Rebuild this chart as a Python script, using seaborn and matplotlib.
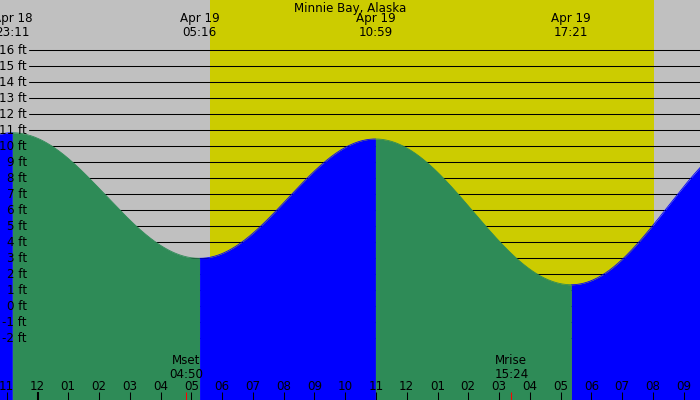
import numpy as np
import pandas as pd
import matplotlib
matplotlib.use("Agg")
import matplotlib.pyplot as plt
import seaborn as sns
from matplotlib.transforms import blended_transform_factory

# ---------------- data ----------------
title = "Minnie Bay, Alaska"
# tide extremes: hours relative to Apr 19 00:00, heights in ft
tide_hours = [-7.0, -0.817, 5.267, 10.983, 17.35, 23.6]
tide_heights = [1.5, 10.85, 3.0, 10.46, 1.35, 11.07]
tide_day = ["", "Apr 18", "Apr 19", "Apr 19", "Apr 19", ""]
tide_time = ["", "23:11", "05:16", "10:59", "17:21", ""]
sunrise_h, sunset_h = 5.60, 20.02
moon_names = ["Mset", "Mrise"]
moon_times = ["04:50", "15:24"]
moon_hours = [4.833, 15.4]
hour_ticks = list(range(-1, 22))
hour_labels = ["11", "12", "01", "02", "03", "04", "05", "06", "07", "08", "09",
               "10", "11", "12", "01", "02", "03", "04", "05", "06", "07", "08", "09"]
ft_levels = list(range(-2, 17))
ft_labels = [f"{v} ft" for v in ft_levels]

# ---------------- style ----------------
sns.set_style("white")
plt.rcParams["font.family"] = ["DejaVu Sans"]
plt.rcParams["text.color"] = "black"
FS = 8.6
GRAY = "#C0C0C0"
DAY = "#CCCC00"
FALL = "#2E8B57"
RISE = "#0000FF"

W, H = 700, 400
PX_X0, PX_PER_H = 37.5, 30.77
PX_Y0, PX_PER_FT = 306.33, 16.0

fig = plt.figure(figsize=(7, 4), dpi=100)
ax = fig.add_axes([0, 0, 1, 1])
XLIM = ((0 - PX_X0) / PX_PER_H, (W - PX_X0) / PX_PER_H)
ybot = (PX_Y0 - H) / PX_PER_FT
YLIM = (ybot, PX_Y0 / PX_PER_FT)
ax.set_xlim(*XLIM)
ax.set_ylim(*YLIM)
fig.patch.set_facecolor(GRAY)

def fy(py):
    return 1 - py / H

# background: night gray, day yellow
ax.axvspan(*XLIM, color=GRAY, zorder=0, lw=0)
ax.axvspan(sunrise_h, sunset_h, color=DAY, zorder=0.5, lw=0)

# grid lines
for v in ft_levels:
    ax.axhline(v, xmin=29 / W, xmax=1, color="black", lw=0.75, zorder=1)

# tide curve (cosine between extremes)
rows = []
for i in range(len(tide_hours) - 1):
    h0, h1 = tide_hours[i], tide_hours[i + 1]
    v0, v1 = tide_heights[i], tide_heights[i + 1]
    t = np.linspace(h0, h1, 300)
    v = v0 + (v1 - v0) * (1 - np.cos(np.pi * (t - h0) / (h1 - h0))) / 2
    phase = "rise" if v1 > v0 else "fall"
    for a, b in zip(t, v):
        rows.append((a, b, phase, i))
df = pd.DataFrame(rows, columns=["hour", "ft", "phase", "seg"])

for seg, g in df.groupby("seg"):
    col = RISE if g["phase"].iloc[0] == "rise" else FALL
    ax.fill_between(g["hour"], ybot, g["ft"], color=col, lw=0, zorder=2)
sns.lineplot(data=df, x="hour", y="ft", hue="phase", units="seg", estimator=None,
             palette={"rise": RISE, "fall": FALL}, lw=0.6, legend=False, ax=ax, zorder=2.1)
ax.set_xlim(*XLIM)
ax.set_ylim(*YLIM)
ax.axis("off")

# ft labels
ty = blended_transform_factory(ax.transAxes, ax.transData)
for v, lab in zip(ft_levels, ft_labels):
    ax.text(27 / W, v - 3.4 / PX_PER_FT, lab, transform=ty, ha="right", va="baseline",
            fontsize=FS, color="black", zorder=5)

tx = blended_transform_factory(ax.transData, ax.transAxes)
# title
ax.text(0.5, fy(11.7), title, transform=ax.transAxes, ha="center", va="baseline",
        fontsize=FS, zorder=5)
# tide extreme labels (two lines in one text; baseline = last line)
for h, d, tm in zip(tide_hours, tide_day, tide_time):
    if not d:
        continue
    ax.text(h, fy(35.7), f"{d}\n{tm}", transform=tx, ha="center", va="baseline",
            multialignment="center", linespacing=1.05, fontsize=FS, zorder=5)

# hour ticks
for h, lab in zip(hour_ticks, hour_labels):
    lw = 1.5 if h == 0 else 0.75
    ax.plot([h, h], [fy(392), 0], transform=tx, color="black", lw=lw, zorder=5,
            solid_capstyle="butt")
    ax.text(h, fy(390), lab, transform=tx, ha="center", va="baseline", fontsize=FS, zorder=5)

# moon events (two lines in one text; baseline = last line)
for h, n, tm in zip(moon_hours, moon_names, moon_times):
    ax.plot([h, h], [fy(392), 0], transform=tx, color="red", lw=0.75, zorder=5,
            solid_capstyle="butt")
    ax.text(h, fy(377.7), f"{n}\n{tm}", transform=tx, ha="center", va="baseline",
            multialignment="center", linespacing=1.05, fontsize=FS, zorder=5)

fig.savefig("out.png", dpi=100, facecolor=GRAY)
